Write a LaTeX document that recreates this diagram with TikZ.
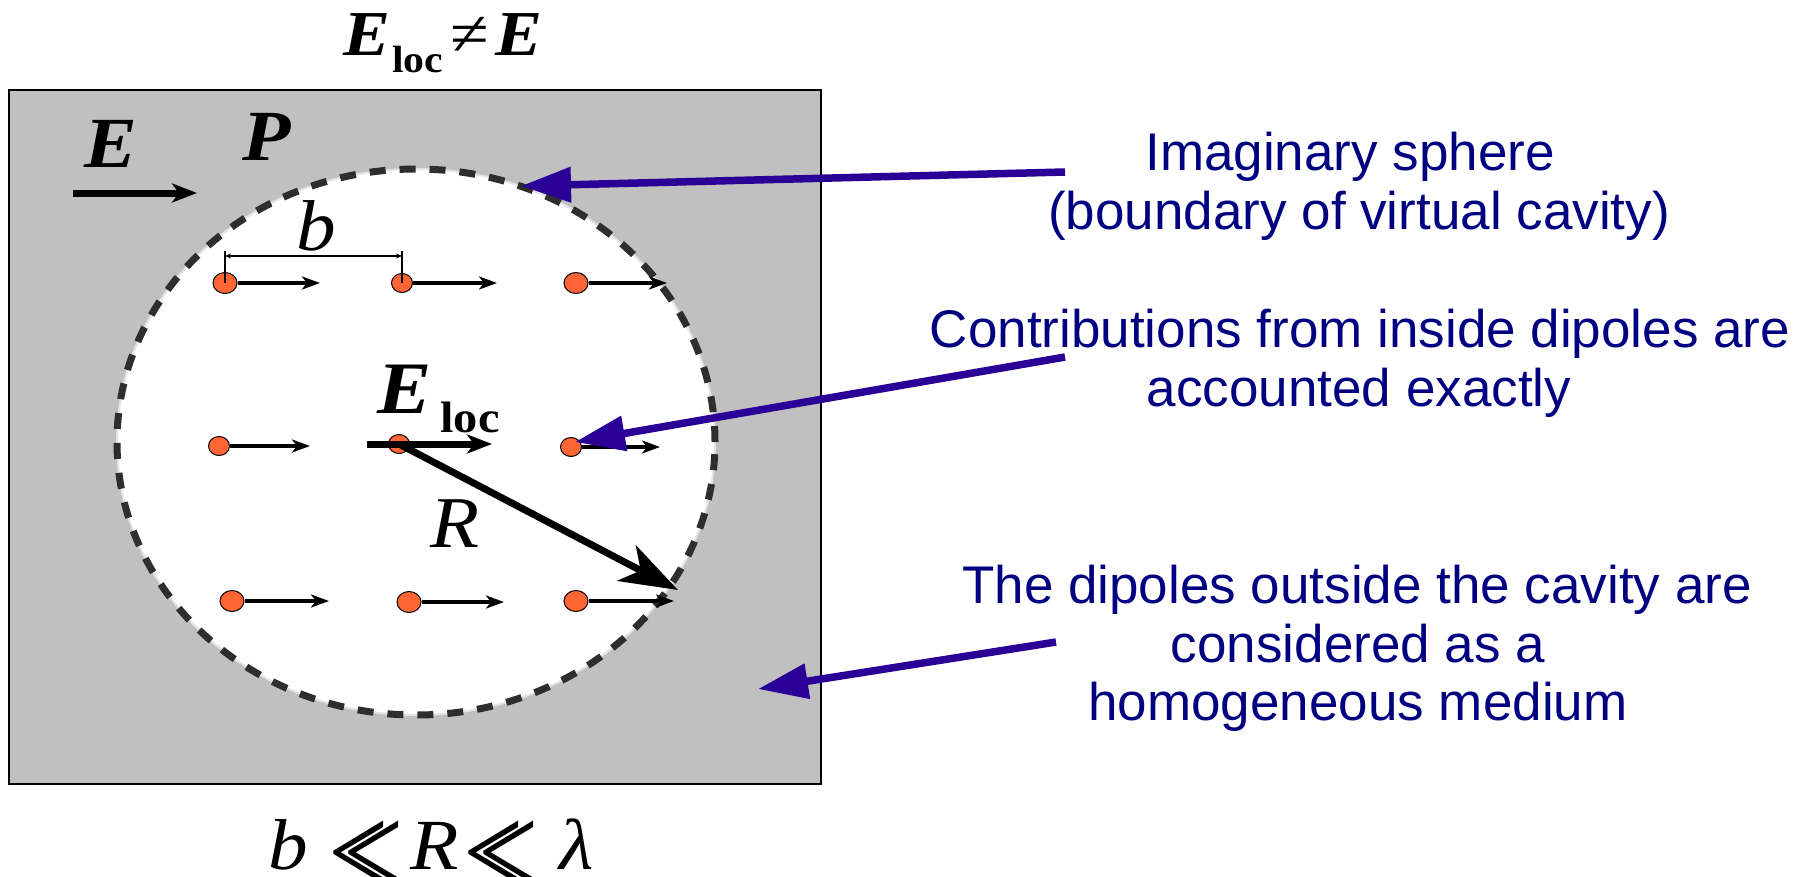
\documentclass[tikz,border=0pt]{standalone}
\usepackage{fontspec}
\setmainfont{Liberation Serif}[FakeStretch=1.1]
\newfontfamily\bluefont{Liberation Sans}
\usetikzlibrary{arrows.meta,shapes.geometric}
\definecolor{mediumgray}{HTML}{C0C0C0}
\definecolor{navytext}{HTML}{000080}
\definecolor{arrowblue}{RGB}{42,0,150}
\definecolor{dipcol}{HTML}{FF6633}
\definecolor{dashgray}{HTML}{2E2E2E}
\definecolor{rimgray}{HTML}{E4E4E4}
\newcommand{\llsym}{\raisebox{-27pt}{\scalebox{1.35}[1.83]{<}\kern-46pt\scalebox{1.35}[1.83]{<}}}
\begin{document}
\begin{tikzpicture}[x=1pt,y=-1pt,
  lbl/.style={inner sep=0pt, anchor=base},
  condtxt/.style={lbl, text depth=0pt, font=\fontsize{72}{72}\selectfont},
  bluetxt/.style={lbl, text=navytext, font=\bluefont\fontsize{53}{59}\selectfont},
  dipole/.style={ellipse, draw=black, line width=1pt, fill=dipcol, minimum width=24pt, minimum height=21pt, inner sep=0pt},
  smalldip/.style={dipole, minimum width=21pt, minimum height=19pt},
  smallarrow/.style={line width=4.5pt, -{Stealth[length=18pt,width=13pt,inset=5pt]}},
  bigarrow/.style={line width=7pt, -{Stealth[length=25pt,width=19pt,inset=7pt]}},
  radarrow/.style={line width=7pt, -{Stealth[length=58pt,width=40pt,inset=16pt]}},
  bluearrow/.style={draw=arrowblue, line width=7.5pt, -{Triangle[length=50pt,width=34pt]}},
  dimline/.style={line width=1.2pt, {Stealth[length=6pt,width=5pt]}-{Stealth[length=6pt,width=5pt]}},
  tick/.style={line width=1.2pt},
]
\useasboundingbox (0,0) rectangle (1809,876);
\fill[white] (0,0) rectangle (1809,876);

% medium and cavity
\draw[fill=mediumgray, line width=1.5pt] (9,90) rectangle (821,784);
\fill[white] (416,442) ellipse [x radius=299pt, y radius=273pt];
\draw[rimgray, line width=2pt] (416,442) ellipse [x radius=299pt, y radius=273pt];
\draw[dashgray, line width=7pt, dash pattern=on 16pt off 14pt] (416,442) ellipse [x radius=299pt, y radius=273pt];

% labels
\node[lbl, font=\fontsize{64}{64}\selectfont] (title) at (443,55)
  {{\bfseries\itshape E}\hspace{2pt}\raisebox{-17pt}{\fontsize{38}{38}\selectfont\bfseries loc}\hspace{7pt}≠\hspace{7pt}{\bfseries\itshape E}};
\node[lbl, font=\fontsize{72}{72}\selectfont\bfseries\itshape] (Elab) at (111,167) {E};
\node[lbl, font=\fontsize{72}{72}\selectfont\bfseries\itshape] (Plab) at (267,160) {P};
\node[lbl, font=\fontsize{72}{72}\selectfont\itshape] (blab) at (316,250) {b};
\node[lbl, anchor=base west, font=\fontsize{74}{74}\selectfont] (Eloc) at (377,413)
  {{\bfseries\itshape E}\hspace{9pt}\raisebox{-19pt}{\fontsize{44}{44}\selectfont\bfseries loc}};
\node[lbl, font=\fontsize{73}{73}\selectfont\itshape] (Rlab) at (455,547) {R};

% condition b << R << lambda
\node[condtxt] (cb)   at (288,869) {\itshape b};
\node[condtxt] (cll1) at (366,869) {\llsym};
\node[condtxt] (cR)   at (435,869) {\itshape R};
\node[condtxt] (cll2) at (501,869) {\llsym};
\node[condtxt] (cl)   at (577,869) {\itshape λ};

% external field arrow
\coordinate (ea0) at (73,193);
\coordinate (ea1) at (197,193);
\draw[bigarrow] (ea0) -- (ea1);

% dipoles
\node[dipole]   (d11) at (225,283) {};
\node[smalldip] (d12) at (402,283) {};
\node[dipole]   (d13) at (576,283) {};
\node[smalldip] (d21) at (219,446) {};
\node[smalldip] (d22) at (399,444) {};
\node[smalldip] (d23) at (571,447) {};
\node[dipole]   (d31) at (232,601) {};
\node[dipole]   (d32) at (409,602) {};
\node[dipole]   (d33) at (576,601) {};

\coordinate (a11) at (320,283);
\coordinate (a12) at (497,283);
\coordinate (a13) at (667,283);
\coordinate (a21) at (310,446);
\coordinate (a23) at (660,447);
\coordinate (a31) at (329,601);
\coordinate (a32) at (504,602);
\coordinate (a33) at (674,601);
\draw[smallarrow] (d11.east) -- (a11);
\draw[smallarrow] (d12.east) -- (a12);
\draw[smallarrow] (d13.east) -- (a13);
\draw[smallarrow] (d21.east) -- (a21);
\draw[smallarrow] (d23.east) -- (a23);
\draw[smallarrow] (d31.east) -- (a31);
\draw[smallarrow] (d32.east) -- (a32);
\draw[smallarrow] (d33.east) -- (a33);

% local field arrow
\coordinate (el0) at (367,444);
\coordinate (el1) at (492,444);
\draw[bigarrow] (el0) -- (el1);

% radius
\coordinate (rtip) at (678,590);
\draw[radarrow] (d22.center) -- (rtip);

% lattice spacing
\coordinate (b1) at (225,256);
\coordinate (b2) at (402,256);
\coordinate (b1t) at (225,251);
\coordinate (b2t) at (402,251);
\draw[tick] (d11.center) -- (b1t);
\draw[tick] (d12.center) -- (b2t);
\draw[dimline] (b1) -- (b2);

% blue annotations
\node[bluetxt] (t1) at (1350,170) {Imaginary sphere};
\node[bluetxt] (t2) at (1359,229) {(boundary of virtual cavity)};
\node[bluetxt] (c1) at (1360,347) {Contributions from inside dipoles are};
\node[bluetxt] (c2) at (1359,406) {accounted exactly};
\node[bluetxt] (h1) at (1357,603) {The dipoles outside the cavity are};
\node[bluetxt] (h2) at (1358,662) {considered as a};
\node[bluetxt] (h3) at (1358,720) {homogeneous medium};

\coordinate (s1) at (1065,172);
\coordinate (e1) at (521,186);
\coordinate (s2) at (1065,357);
\coordinate (e2) at (575,442);
\coordinate (s3) at (1056,642);
\coordinate (e3) at (758,689);
\draw[bluearrow] (s1) -- (e1);
\draw[bluearrow] (s2) -- (e2);
\draw[bluearrow] (s3) -- (e3);
\end{tikzpicture}
\end{document}
